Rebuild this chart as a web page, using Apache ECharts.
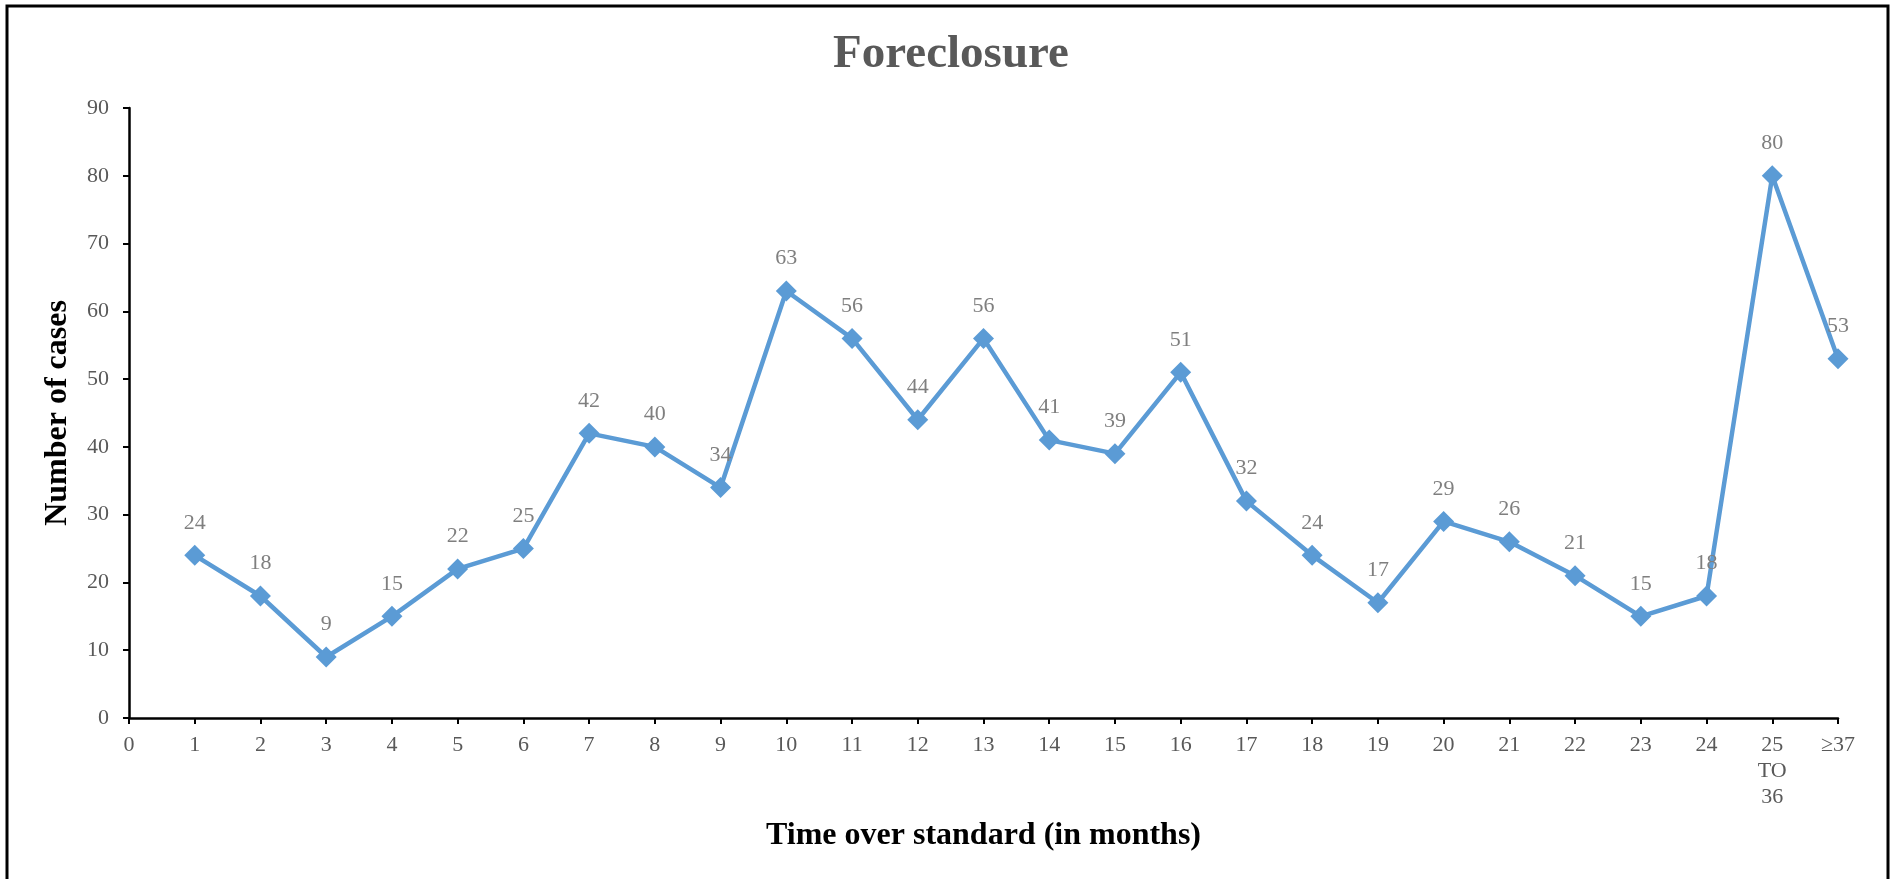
<!DOCTYPE html>
<html>
<head>
<meta charset="utf-8">
<script src="https://cdn.jsdelivr.net/npm/echarts@6/dist/echarts.min.js"></script>
<style>
html,body{margin:0;padding:0;background:#fff;}
#chart{width:1893px;height:879px;}
</style>
</head>
<body>
<div id="chart"></div>
<script>
var chartTitle = 'Foreclosure';
var xAxisName = 'Time over standard (in months)';
var yAxisName = 'Number of cases';
var categories = ['0','1','2','3','4','5','6','7','8','9','10','11','12','13','14','15','16','17','18','19','20','21','22','23','24','25\nTO\n36','≥37'];
var cases = [null,24,18,9,15,22,25,42,40,34,63,56,44,56,41,39,51,32,24,17,29,26,21,15,18,80,53];
var yMin = 0, yMax = 90, yStep = 10;

var serif = '"Liberation Serif", "Times New Roman", serif';
var chart = echarts.init(document.getElementById('chart'));
chart.setOption({
  animation: false,
  backgroundColor: '#ffffff',
  title: {
    text: chartTitle,
    left: 946,
    top: 26,
    textAlign: 'center',
    textStyle: {fontFamily: serif, fontSize: 47, fontWeight: 'bold', color: '#595959'}
  },
  graphic: [{
    type: 'rect',
    shape: {x: 7, y: 6, width: 1881, height: 960},
    style: {fill: 'none', stroke: '#000', lineWidth: 3},
    silent: true
  }],
  grid: {left: 129, right: 55, top: 108, bottom: 161, containLabel: false},
  xAxis: {
    type: 'category',
    data: categories,
    boundaryGap: false,
    name: xAxisName,
    nameLocation: 'middle',
    nameGap: 102,
    nameTextStyle: {fontFamily: serif, fontSize: 32, fontWeight: 'bold', color: '#000'},
    axisLine: {lineStyle: {color: '#000', width: 2.5}},
    axisTick: {show: true, inside: false, length: 6, alignWithLabel: true, lineStyle: {color: '#000', width: 2}},
    axisLabel: {fontFamily: serif, fontSize: 22, color: '#595959', margin: 14, interval: 0, lineHeight: 26},
    splitLine: {show: false}
  },
  yAxis: {
    type: 'value',
    min: yMin, max: yMax, interval: yStep,
    name: yAxisName,
    nameLocation: 'middle',
    nameGap: 55,
    nameTextStyle: {fontFamily: serif, fontSize: 32, fontWeight: 'bold', color: '#000'},
    axisLine: {show: true, lineStyle: {color: '#000', width: 2.5}},
    axisTick: {show: true, inside: false, length: 6, lineStyle: {color: '#000', width: 2}},
    axisLabel: {fontFamily: serif, fontSize: 22, color: '#595959', margin: 20},
    splitLine: {show: false}
  },
  series: [{
    type: 'line',
    data: cases,
    connectNulls: false,
    symbol: 'diamond',
    symbolSize: 21,
    lineStyle: {color: '#5B9BD5', width: 4.5},
    itemStyle: {color: '#5B9BD5'},
    label: {show: true, position: 'top', distance: 11, fontFamily: serif, fontSize: 22, color: '#7f7f7f'}
  }]
});
</script>
</body>
</html>
